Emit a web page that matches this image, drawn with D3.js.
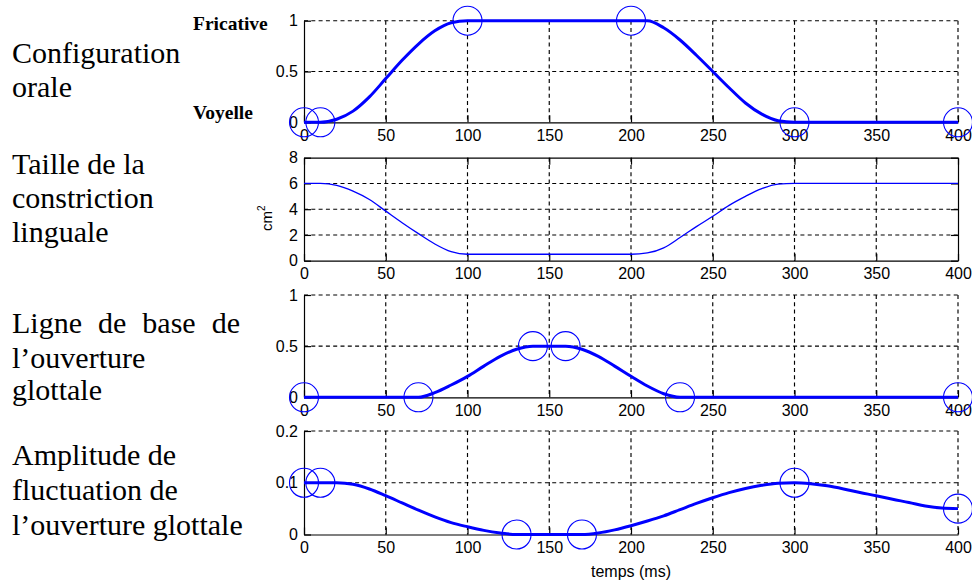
<!DOCTYPE html>
<html><head><meta charset="utf-8">
<script src="https://cdn.jsdelivr.net/npm/d3@7"></script>
<style>body{margin:0;background:#fff}svg{display:block}</style>
</head><body>
<svg id="c" width="972" height="585"></svg>
<script>
// ---------- data ----------
const timeMs = [0,10,20,30,40,50,60,70,80,90,100,110,120,130,140,150,160,170,180,190,200,
                210,220,230,240,250,260,270,280,290,300,310,320,330,340,350,360,370,380,390,400];
const oralConfig = [0,0,0.03,0.11,0.25,0.43,0.61,0.77,0.90,0.98,1,1,1,1,1,1,1,1,1,1,1,
                    1,0.93,0.81,0.66,0.50,0.34,0.19,0.08,0.015,0,0,0,0,0,0,0,0,0,0,0];
const tongueArea = [6,6,5.85,5.4,4.75,3.85,2.95,2.1,1.3,0.7,0.5,0.5,0.5,0.5,0.5,0.5,0.5,0.5,0.5,0.5,0.5,
                    0.6,1.0,1.8,2.65,3.45,4.3,5.0,5.6,5.95,6,6,6,6,6,6,6,6,6,6,6];
const glottalBase = [0,0,0,0,0,0,0,0,0.045,0.12,0.205,0.305,0.40,0.47,0.5,0.5,0.5,0.47,0.40,0.305,0.205,
                     0.11,0.035,0,0,0,0,0,0,0,0,0,0,0,0,0,0,0,0,0,0];
const glottalAmp = [0.1,0.1,0.1,0.097,0.088,0.075,0.061,0.047,0.034,0.023,0.015,0.008,0.003,0,0,0,0,0,0.003,0.009,0.017,
                    0.026,0.036,0.048,0.060,0.071,0.081,0.089,0.095,0.099,0.1,0.098,0.094,0.088,0.081,0.075,0.068,0.062,0.055,0.051,0.05];

const oralKnotsT = [0,10,100,200,300,400],  oralKnotsV = [0,0,1,1,0,0];
const baseKnotsT = [0,70,140,160,230,400],  baseKnotsV = [0,0,0.5,0.5,0,0];
const ampKnotsT  = [0,10,130,170,300,400],  ampKnotsV  = [0.1,0.1,0,0,0.1,0.05];

const xTicks = [0,50,100,150,200,250,300,350,400];
const yTicksOral = [0,0.5,1],   yLabelsOral = ["0","0.5","1"];
const yTicksArea = [0,2,4,6,8], yLabelsArea = ["0","2","4","6","8"];
const yTicksBase = [0,0.5,1],   yLabelsBase = ["0","0.5","1"];
const yTicksAmp  = [0,0.1,0.2], yLabelsAmp  = ["0","0.1","0.2"];

const rowTitles = [
  ["Configuration","orale"],
  ["Taille de la","constriction","linguale"],
  ["Ligne de base de","l\u2019ouverture","glottale"],
  ["Amplitude de","fluctuation de","l\u2019ouverture glottale"]
];
const stateLabels = ["Fricative","Voyelle"];
const xAxisTitle = "temps (ms)";
const areaUnit = "cm";

// ---------- drawing ----------
const svg = d3.select("#c");
const BLUE = "#0000ff";
const SANS = "'Liberation Sans', Arial, Helvetica, sans-serif";
const SERIF = "'Liberation Serif', 'Times New Roman', serif";
const x = d3.scaleLinear().domain([0,400]).range([304,958]);

const panels = [
  {top:20.7, bottom:122.3, dom:[0,1],   ticks:yTicksOral, labels:yLabelsOral, vals:oralConfig,  lw:3,   kt:oralKnotsT, kv:oralKnotsV, box:false},
  {top:157.7,bottom:260.7, dom:[0,8],   ticks:yTicksArea, labels:yLabelsArea, vals:tongueArea,  lw:1.3, kt:null, kv:null, box:true},
  {top:295,  bottom:397.3, dom:[0,1],   ticks:yTicksBase, labels:yLabelsBase, vals:glottalBase, lw:3,   kt:baseKnotsT, kv:baseKnotsV, box:false},
  {top:431,  bottom:534.5, dom:[0,0.2], ticks:yTicksAmp,  labels:yLabelsAmp,  vals:glottalAmp,  lw:3,   kt:ampKnotsT, kv:ampKnotsV, box:false}
];

panels.forEach(p => {
  const y = d3.scaleLinear().domain(p.dom).range([p.bottom, p.top]);
  const g = svg.append("g");
  const dash = "4,3.3";
  // grid
  xTicks.forEach(t => {
    if (t === 0) return;
    if (p.box && t === 400) return;
    g.append("line").attr("x1", x(t)).attr("x2", x(t)).attr("y1", p.top).attr("y2", p.bottom)
      .attr("stroke","#000").attr("stroke-width",1.15).attr("stroke-dasharray",dash);
  });
  p.ticks.forEach(v => {
    if (v === p.dom[0]) return;
    if (p.box && v === p.dom[1]) return;
    g.append("line").attr("x1", x(0)).attr("x2", x(400)).attr("y1", y(v)).attr("y2", y(v))
      .attr("stroke","#000").attr("stroke-width",1.15).attr("stroke-dasharray",dash);
  });
  // axes
  const ax = d3.axisBottom(x).tickValues(xTicks).tickFormat(d => String(d))
      .tickSizeInner(-7).tickSizeOuter(0).tickPadding(7);
  const gx = g.append("g").attr("transform", `translate(0,${p.bottom})`).call(ax);
  const ay = d3.axisLeft(y).tickValues(p.ticks).tickFormat((d,i) => p.labels[i])
      .tickSizeInner(-7).tickSizeOuter(0).tickPadding(6);
  const gy = g.append("g").attr("transform", `translate(${x(0)},0)`).call(ay);
  [gx, gy].forEach(a => {
    a.attr("font-family", SANS).attr("font-size", 16);
    a.selectAll("text").attr("fill","#000");
    a.selectAll("line,path").attr("stroke","#000").attr("stroke-width",1.2);
  });
  if (p.box) {
    const at = d3.axisTop(x).tickValues(xTicks).tickFormat("").tickSizeInner(-7).tickSizeOuter(0);
    g.append("g").attr("transform", `translate(0,${p.top})`).call(at)
      .selectAll("line,path").attr("stroke","#000").attr("stroke-width",1.2);
    const ar = d3.axisRight(y).tickValues(p.ticks).tickFormat("").tickSizeInner(-7).tickSizeOuter(0);
    g.append("g").attr("transform", `translate(${x(400)},0)`).call(ar)
      .selectAll("line,path").attr("stroke","#000").attr("stroke-width",1.2);
  }
  // curve
  const data = timeMs.map((t,i) => ({t, v:p.vals[i]}));
  g.append("path").datum(data)
    .attr("d", d3.line().x(d => x(d.t)).y(d => y(d.v)).curve(d3.curveMonotoneX))
    .attr("fill","none").attr("stroke",BLUE).attr("stroke-width",p.lw).attr("stroke-linejoin","round");
  // knots
  if (p.kt) {
    g.selectAll("circle.k").data(p.kt.map((t,i) => ({t, v:p.kv[i]}))).enter()
      .append("circle").attr("cx", d => x(d.t)).attr("cy", d => y(d.v)).attr("r", 14.5)
      .attr("fill","none").attr("stroke",BLUE).attr("stroke-width",1.1);
  }
});

// cm^2 label
const unit = svg.append("text").attr("transform","translate(272,231) rotate(-90)")
  .attr("font-family", SANS).attr("font-size", 15).attr("fill","#000");
unit.append("tspan").text(areaUnit);
unit.append("tspan").attr("dy",-7).attr("font-size",10).text("2");

// x-axis title
svg.append("text").attr("x",631).attr("y",577).attr("text-anchor","middle")
  .attr("font-family", SANS).attr("font-size", 16).attr("fill","#000").text(xAxisTitle);

// state labels
svg.append("text").attr("x",193).attr("y",29.5).attr("font-family",SERIF).attr("font-weight","bold")
  .attr("font-size",19.5).text(stateLabels[0]);
svg.append("text").attr("x",193).attr("y",118.5).attr("font-family",SERIF).attr("font-weight","bold")
  .attr("font-size",19.5).text(stateLabels[1]);

// row titles
const baselines = [[62.5,96.5],[174,208,242],[333,367.5,400],[465,500,535]];
rowTitles.forEach((lines, r) => {
  lines.forEach((ln, j) => {
    const t = svg.append("text").attr("x",12).attr("y",baselines[r][j])
      .attr("font-family",SERIF).attr("font-size",30).attr("fill","#000").text(ln);
    if (r === 2 && j === 0) {
      const w = t.node().getComputedTextLength();
      const gaps = ln.split(" ").length - 1;
      t.attr("word-spacing", (228 - w) / gaps);
    }
  });
});
</script>
</body></html>
